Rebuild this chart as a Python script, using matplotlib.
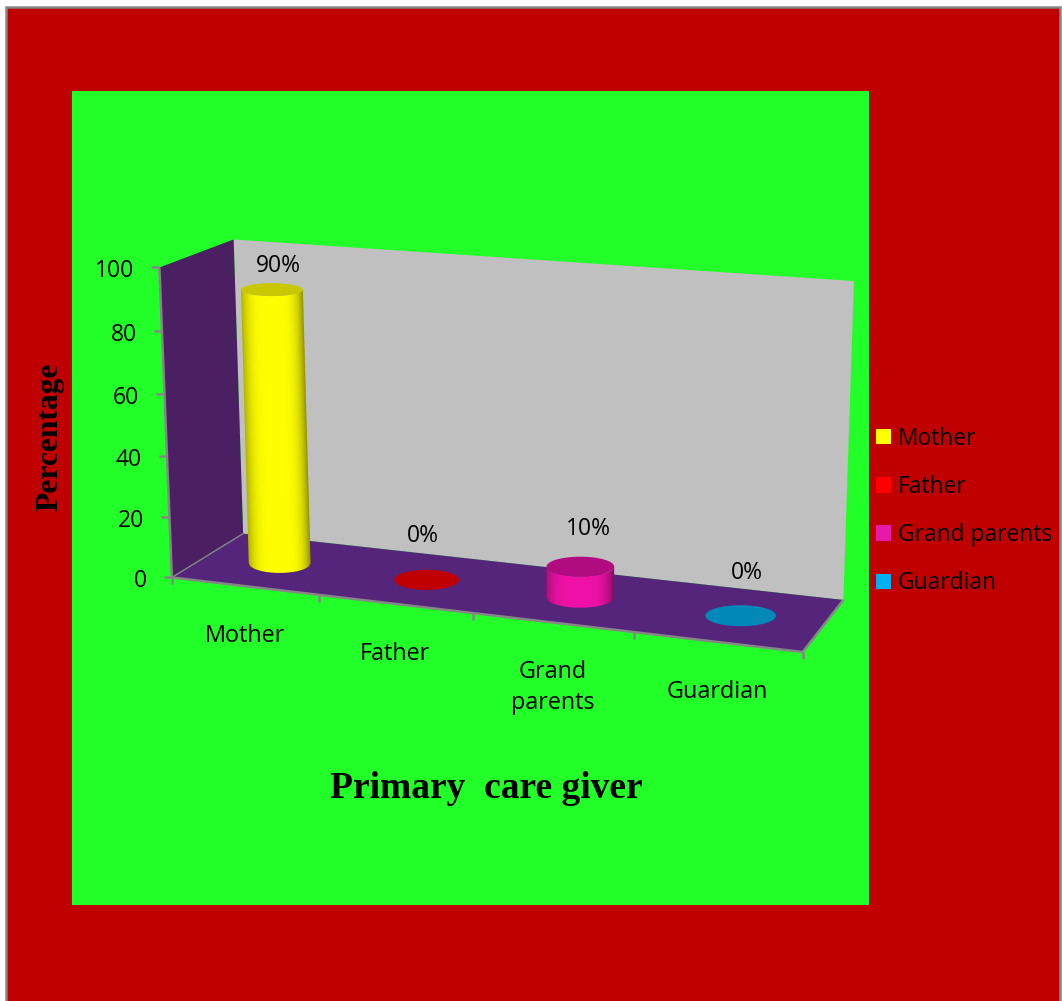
import numpy as np
import matplotlib
matplotlib.use("Agg")
import matplotlib.pyplot as plt
from matplotlib.patches import Ellipse, Patch, Polygon, Rectangle

categories = ["Mother", "Father", "Grand\nparents", "Guardian"]
legend_names = ["Mother", "Father", "Grand parents", "Guardian"]
values = [90, 0, 10, 0]
value_labels = ["90%", "0%", "10%", "0%"]
y_ticks = [0, 20, 40, 60, 80, 100]

body_colors = ["#FFFF00", "#FF0000", "#F012A8", "#00B0F0"]
top_colors = ["#C8C800", "#C00000", "#B00C80", "#0088B8"]
legend_colors = ["#FFFF00", "#FF0000", "#E619A8", "#00B0F0"]

RED = "#C00000"
GREEN = "#22FF28"
FLOOR = "#54257A"
SIDE = "#4A2062"
BACK = "#C0C0C0"
GREY = "#868686"
FONT = "Open Sans"

# scene corners (category pos, depth, value) -> canvas pixels
frame_3d = [(0, 0, 0), (4, 0, 0), (0, 1, 0), (4, 1, 0), (0, 0, 100), (0, 1, 100), (4, 1, 100)]
frame_px = [(171, 577), (803, 652), (244, 534), (843, 600), (160, 268), (233, 239), (854, 281)]

A = []
b = []
for (u, w, v), (px, py) in zip(frame_3d, frame_px):
    A.append([u, w, v, 1, 0, 0, 0, 0, -px * u, -px * w, -px * v])
    A.append([0, 0, 0, 0, u, w, v, 1, -py * u, -py * w, -py * v])
    b += [px, py]
P = np.linalg.lstsq(np.array(A, float), np.array(b, float), rcond=None)[0]
P = np.append(P, 1).reshape(3, 4)


def project(u, w, v):
    x, y, z = P @ np.array([u, w, v, 1.0])
    return x / z, y / z


def bar_ellipse(u, v):
    cx, cy = project(u, 0.5, v)
    spacing = project(u + 0.5, 0, 0)[0] - project(u - 0.5, 0, 0)[0]
    a = 0.21 * spacing
    b_ = 6.5 + (cy - 289) * 3.5 / 285
    return cx, cy, a, b_


def draw_body(color, top, bottom):
    # horizontal shading follows the taper of the cylinder, row by row
    tx, ty, ta, tb = top
    bx, by, ba, bb = bottom
    s = np.linspace(-1, 1, 61)
    outline = [(tx + ta * k, ty + tb * np.sqrt(1 - k ** 2)) for k in s]
    outline += [(bx + ba * k, by + bb * np.sqrt(1 - k ** 2)) for k in s[::-1]]

    x0, x1 = min(tx - ta, bx - ba) - 1, max(tx + ta, bx + ba) + 1
    y0, y1 = ty - 1, by + bb + 1
    xs = np.arange(x0, x1, 0.5)
    ys = np.arange(y0, y1, 0.5)
    gx, gy = np.meshgrid(xs, ys)
    frac = np.clip((gy - ty) / (by - ty), 0, 1)
    cx = tx + (bx - tx) * frac
    half = ta + (ba - ta) * frac
    pos = np.clip((gx - cx) / half, -1, 1)
    fade = np.where(pos < 0, 0.30, 0.45) * np.abs(pos) ** 4
    img = np.array(matplotlib.colors.to_rgb(color))[None, None, :] * (1 - fade[..., None])

    clip = Polygon(outline, facecolor="none", edgecolor="none", transform=ax.transData)
    ax.add_patch(clip)
    im = ax.imshow(img, extent=[x0, x1, y1, y0], aspect="auto", interpolation="bilinear", zorder=3)
    im.set_clip_path(clip)
    ax.set_xlim(0, 1062)
    ax.set_ylim(1001, 0)


fig = plt.figure(figsize=(10.62, 10.01), dpi=100, facecolor="white")
ax = fig.add_axes([0, 0, 1, 1])
ax.set_xlim(0, 1062)
ax.set_ylim(1001, 0)
ax.axis("off")

ax.add_patch(Rectangle((6, 7), 1054, 1000, facecolor=RED, edgecolor=GREY, linewidth=1.8))
ax.add_patch(Rectangle((72, 91), 797, 814, facecolor=GREEN, edgecolor="none"))

# walls and floor
ax.add_patch(Polygon([project(0, 1, 0), project(4, 1, 0), project(4, 1, 100), project(0, 1, 100)],
                     facecolor=BACK, edgecolor="none"))
ax.add_patch(Polygon([project(0, 0, 0), project(0, 1, 0), project(0, 1, 100), project(0, 0, 100)],
                     facecolor=SIDE, edgecolor="none"))
ax.add_patch(Polygon([project(0, 0, 0), project(4, 0, 0), project(4, 1, 0), project(0, 1, 0)],
                     facecolor=FLOOR, edgecolor="none"))

# axis lines and ticks
for p, q, lw in [((0, 0, 0), (0, 0, 100), 1.8), ((0, 0, 0), (4, 0, 0), 1.8),
                 ((4, 0, 0), (4, 1, 0), 1.8), ((0, 0, 0), (0, 1, 0), 1.0)]:
    x0, y0 = project(*p)
    x1, y1 = project(*q)
    ax.plot([x0, x1], [y0, y1], color=GREY, lw=lw, solid_capstyle="butt")

for t in y_ticks:
    x, y = project(0, 0, t)
    ax.plot([x - 8, x], [y, y], color=GREY, lw=1.8, solid_capstyle="butt")
    ax.text(x - 25, y + 4, str(t), ha="right", va="center", fontsize=16.5, family=FONT, color="black")

for i in range(len(categories) + 1):
    x, y = project(i, 0, 0)
    ax.plot([x, x], [y, y + 7], color=GREY, lw=1.8, solid_capstyle="butt")

for i, name in enumerate(categories):
    x, y = project(i + 0.5, 0, 0)
    for k, line in enumerate(name.split("\n")):
        ax.text(x, y + 50 + 31 * k, line, ha="center", va="center", fontsize=16.8, family=FONT, color="black")

# cylinders
label_nudge = [(6, -24), (-4, -44), (8, -38), (6, -43)]
for i, val in enumerate(values):
    u = i + 0.5
    bottom = bar_ellipse(u, 0)
    top = bar_ellipse(u, val)
    if val > 0:
        draw_body(body_colors[i], top, bottom)
    tx, ty, ta, tb = top
    ax.add_patch(Ellipse((tx, ty), 2 * ta, 2 * tb, facecolor=top_colors[i], edgecolor="none", zorder=4))
    ax.text(tx + label_nudge[i][0], ty + label_nudge[i][1], value_labels[i], ha="center", va="center",
            fontsize=16.5, family=FONT, color="black", zorder=5)

ax.text(486, 788, "Primary  care giver", ha="center", va="center", fontsize=27,
        family="Liberation Serif", weight="bold", color="black")
ax.text(50, 437, "Percentage", ha="center", va="center", rotation=90, fontsize=22.7,
        family="Liberation Serif", weight="bold", color="black")

handles = [Patch(facecolor=c, edgecolor="none") for c in legend_colors]
fig.legend(handles, legend_names, loc="center left", bbox_to_anchor=(876 / 1062, 1 - 511 / 1001),
           frameon=False, prop={"family": FONT, "size": 16.4}, handlelength=0.66, handleheight=0.66,
           handletextpad=0.3, labelspacing=1.06, borderaxespad=0, borderpad=0, labelcolor="black")

fig.savefig("out.png", dpi=100, facecolor="white")
